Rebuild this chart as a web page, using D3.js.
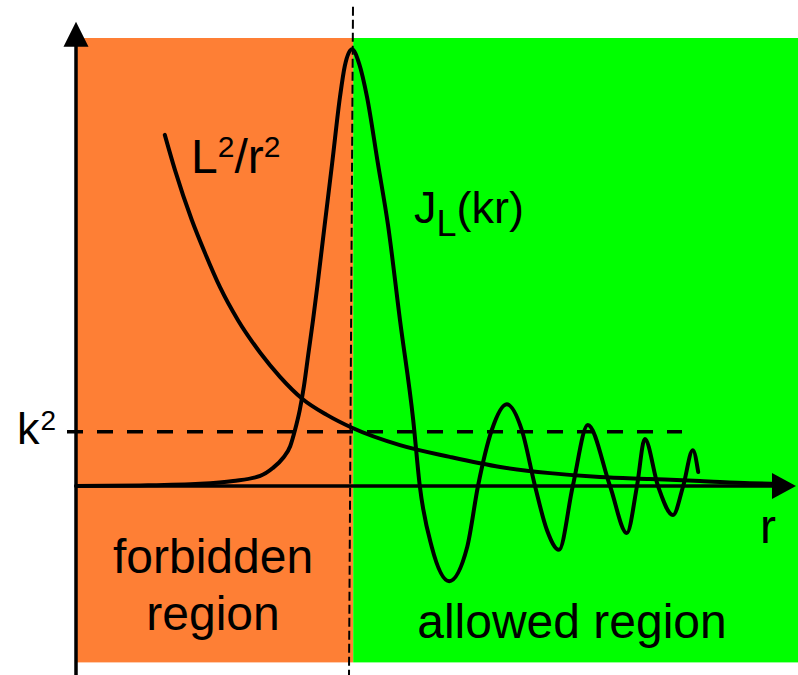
<!DOCTYPE html>
<html>
<head>
<meta charset="utf-8">
<script src="https://cdn.jsdelivr.net/npm/d3@7"></script>
<style>
  body { margin: 0; background: #fff; }
  svg { display: block; }
  text { font-family: "Liberation Sans", Arial, Helvetica, sans-serif; fill: #000; }
</style>
</head>
<body>
<svg id="chart" width="798" height="675"></svg>
<script>
// Regions of r on either side of the classical turning point
const regionNames = ["forbidden", "allowed"];
const regionStart = [0, 4.62];
const regionEnd = [4.62, 12.05];
const regionColors = ["#FE7F35", "#00FF00"];

const turningPoint = 4.6;   // r where k² meets L²/r²
const kSquared = 0.97;      // energy level k²

// Centrifugal barrier L²/r²
const barrierR = [1.48, 1.65, 1.93, 2.15, 2.40, 2.70, 3.07, 3.40, 3.78, 4.18, 4.60,
                  5.40, 6.23, 7.07, 7.90, 8.73, 9.57, 10.40, 11.23, 11.73];
const barrierV = [6.27, 5.64, 4.75, 4.16, 3.55, 2.96, 2.38, 1.95, 1.55, 1.27, 1.04,
                  0.73, 0.52, 0.34, 0.23, 0.16, 0.125, 0.09, 0.05, 0.035];

// Radial wave J_L(kr)
const waveR = [0, 1.07, 2.07, 2.62, 3.07, 3.28, 3.45, 3.57, 3.65, 3.73, 3.80, 3.87, 3.95, 4.02,
               4.15, 4.27, 4.40, 4.48, 4.60, 4.72, 4.85, 5.03, 5.20, 5.40, 5.62, 5.73,
               5.93, 6.22, 6.52, 6.70, 6.93, 7.18, 7.43, 7.65, 7.85, 8.05, 8.28,
               8.53, 8.90, 9.18, 9.35, 9.48, 9.70, 9.95, 10.12, 10.28, 10.37];
const waveV = [0, 0.01, 0.04, 0.09, 0.18, 0.32, 0.50, 0.71, 1.00, 1.36, 1.79, 2.34, 2.96, 3.55,
               4.71, 5.77, 6.95, 7.50, 7.80, 7.54, 6.95, 5.77, 4.66, 2.96, 1.18, 0,
               -1.09, -1.70, -1.09, 0, 1.00, 1.46, 1.00, 0, -0.79, -1.14, 0,
               1.09, 0, -0.84, 0, 0.84, 0, -0.52, 0, 0.64, 0.25];

// Axis extents (data units)
const rMax = 12;
const vTop = 8.29;
const vBottom = -3.38;
const bandTop = 8.0;
const bandBottom = -3.15;

const svg = d3.select("#chart");

const x = d3.scaleLinear().domain([0, rMax]).range([76, 796]);
const y = d3.scaleLinear().domain([0, 8]).range([486, 38]);

// Background regions
svg.append("g")
  .selectAll("rect")
  .data(regionNames.map((n, i) => ({ name: n, r0: regionStart[i], r1: regionEnd[i], color: regionColors[i] })))
  .join("rect")
  .attr("x", d => x(d.r0) + (d.r0 === 0 ? 1 : 0))
  .attr("y", y(bandTop))
  .attr("width", d => x(d.r1) - x(d.r0) - (d.r0 === 0 ? 1 : 0))
  .attr("height", y(bandBottom) - y(bandTop))
  .attr("fill", d => d.color);

// Energy level k² (dashed)
svg.append("line")
  .attr("x1", x(-0.15)).attr("x2", x(10.1))
  .attr("y1", y(kSquared)).attr("y2", y(kSquared))
  .attr("stroke", "#000").attr("stroke-width", 3.5)
  .attr("stroke-dasharray", "16,14");

// Turning point (thin dashed, slightly leaning)
svg.append("line")
  .attr("x1", x(turningPoint) + 1).attr("y1", y(vTop) - 15)
  .attr("x2", x(turningPoint) - 3).attr("y2", y(vBottom))
  .attr("stroke", "#000").attr("stroke-width", 2)
  .attr("stroke-dasharray", "9,4");

const line = d3.line()
  .x(d => x(d[0]))
  .y(d => y(d[1]))
  .curve(d3.curveMonotoneX);

// L²/r²
svg.append("path")
  .attr("d", line(barrierR.map((r, i) => [r, barrierV[i]])))
  .attr("fill", "none").attr("stroke", "#000").attr("stroke-width", 4)
  .attr("stroke-linecap", "round");

// J_L(kr)
svg.append("path")
  .attr("d", line(waveR.map((r, i) => [r, waveV[i]])))
  .attr("fill", "none").attr("stroke", "#000").attr("stroke-width", 4)
  .attr("stroke-linejoin", "round").attr("stroke-linecap", "round");

// Axes with arrowheads
const axes = svg.append("g");
axes.append("line")
  .attr("x1", x(0)).attr("x2", x(0))
  .attr("y1", y(vBottom)).attr("y2", y(vTop) + 20)
  .attr("stroke", "#000").attr("stroke-width", 3.5);
axes.append("path")
  .attr("d", `M${x(0)},${y(vTop)} L${x(0) - 12.5},${y(vTop) + 25} L${x(0) + 12.5},${y(vTop) + 25} Z`)
  .attr("fill", "#000");
axes.append("line")
  .attr("x1", x(0)).attr("x2", x(rMax) - 20)
  .attr("y1", y(0)).attr("y2", y(0))
  .attr("stroke", "#000").attr("stroke-width", 3.5);
axes.append("path")
  .attr("d", `M${x(rMax)},${y(0)} L${x(rMax) - 24},${y(0) - 13} L${x(rMax) - 24},${y(0) + 13} Z`)
  .attr("fill", "#000");

// Labels
const k2 = svg.append("text").attr("x", 17).attr("y", 444).attr("font-size", 45);
k2.append("tspan").text("k");
k2.append("tspan").attr("font-size", 28).attr("dy", -14).attr("dx", 1).text("2");

const lr = svg.append("text").attr("x", 191).attr("y", 173).attr("font-size", 48);
lr.append("tspan").text("L");
lr.append("tspan").attr("font-size", 30).attr("dy", -16).text("2");
lr.append("tspan").attr("dy", 16).text("/r");
lr.append("tspan").attr("font-size", 30).attr("dy", -16).text("2");

const jl = svg.append("text").attr("x", 414).attr("y", 223).attr("font-size", 45);
jl.append("tspan").text("J");
jl.append("tspan").attr("font-size", 36).attr("dy", 13).text("L");
jl.append("tspan").attr("dy", -13).text("(kr)");

svg.append("text").attr("x", 760).attr("y", 543).attr("font-size", 48).text("r");

svg.append("text").attr("x", 213).attr("y", 573).attr("font-size", 48)
  .attr("text-anchor", "middle").text("forbidden");
svg.append("text").attr("x", 213).attr("y", 630).attr("font-size", 48)
  .attr("text-anchor", "middle").text("region");
svg.append("text").attr("x", 572).attr("y", 638).attr("font-size", 48)
  .attr("text-anchor", "middle").text("allowed region");
</script>
</body>
</html>
